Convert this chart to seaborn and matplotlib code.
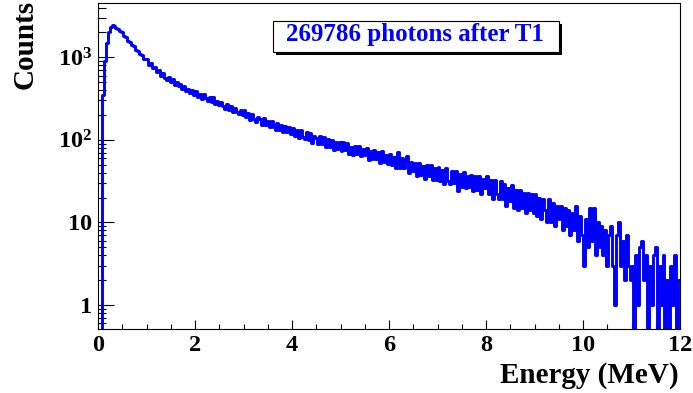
import numpy as np
import pandas as pd
import matplotlib
matplotlib.use("Agg")
import matplotlib.pyplot as plt
import seaborn as sns
from matplotlib.patches import Rectangle
from matplotlib.ticker import FixedLocator, FixedFormatter, MultipleLocator, LogLocator, NullFormatter

# ---- data: counts per bin (bin width 0.04 MeV) ----
bin_width = 0.04
counts_0_1 = [0, 0, 350, 900, 1500, 2000, 2320, 2450, 2420, 2290, 2210, 2080, 2010,
              1830, 1770, 1590, 1540, 1400, 1350, 1230, 1190, 1090, 1060, 960, 950]
counts_1_2 = [942, 810, 860, 740, 756, 656, 697, 599, 638, 565, 524, 572, 506,
              540, 463, 495, 452, 475, 413, 444, 386, 412, 370, 401, 352]
counts_2_3 = [388, 334, 362, 314, 361, 317, 298, 332, 291, 326, 269, 299, 261,
              290, 254, 237, 272, 231, 255, 215, 243, 220, 204, 233, 200]
counts_3_4 = [227, 187, 210, 175, 208, 178, 165, 190, 177, 151, 183, 151, 169,
              142, 167, 143, 133, 160, 133, 151, 123, 147, 125, 143, 118]
counts_4_5 = [140, 112, 132, 105, 133, 109, 101, 123, 100, 120, 92, 111, 104,
              89, 111, 90, 109, 83, 101, 82, 100, 76, 94, 78, 95]
counts_5_6 = [73, 93, 75, 92, 68, 82, 65, 84, 67, 85, 63, 77, 66,
              79, 57, 74, 58, 75, 59, 71, 53, 73, 54, 65, 51]
counts_6_7 = [68, 49, 62, 46, 71, 45, 60, 45, 55, 64, 40, 54, 42,
              53, 37, 53, 38, 48, 34, 49, 37, 49, 33, 45, 33]
counts_7_8 = [47, 32, 43, 29, 46, 32, 29, 42, 30, 42, 24, 39, 27,
              41, 26, 36, 27, 38, 24, 36, 25, 36, 22, 34, 26]
counts_8_9 = [36, 22, 33, 19, 33, 22, 19, 32, 19, 29, 16, 26, 18,
              28, 15, 25, 14, 25, 15, 23, 13, 23, 14, 22, 13]
counts_9_10 = [22, 12, 20, 11, 19, 14, 10, 19, 10, 17, 9, 16, 11,
               16, 8, 15, 9, 14, 7, 13, 8, 16, 6, 12, 7]
counts_10_11 = [3, 11, 5, 15, 6, 15, 4, 10, 5, 9, 4, 8, 3,
                7, 9, 3, 1, 7, 10, 3, 6, 2, 7, 3, 2]
counts_11_12 = [3, 0, 4, 1, 5, 6, 2, 4, 0, 3, 1, 4, 5,
                0, 3, 1, 4, 0, 2, 0, 3, 1, 4, 0, 2]

x_ticks = [0, 2, 4, 6, 8, 10, 12]
y_ticks = [1, 10, 100, 1000]
y_tick_labels = ["1", "10", r"$10^{2}$", r"$10^{3}$"]
title_text = "269786 photons after T1"
x_title = "Energy (MeV)"
y_title = "Counts"

counts = (counts_0_1 + counts_1_2 + counts_2_3 + counts_3_4 + counts_4_5 + counts_5_6 +
          counts_6_7 + counts_7_8 + counts_8_9 + counts_9_10 + counts_10_11 + counts_11_12)
n_bins = len(counts)
edges = np.round(np.arange(n_bins + 1) * bin_width, 6)
centers = edges[:-1] + bin_width / 2
df = pd.DataFrame({"energy": centers, "counts": counts})

# ---- style ----
sns.set_style("ticks")
plt.rcParams["font.family"] = ["Liberation Serif", "DejaVu Serif"]
plt.rcParams["font.weight"] = "bold"
plt.rcParams["mathtext.fontset"] = "custom"
plt.rcParams["mathtext.rm"] = "Liberation Serif:bold"
plt.rcParams["mathtext.bf"] = "Liberation Serif:bold"
plt.rcParams["mathtext.it"] = "Liberation Serif:bold"
plt.rcParams["mathtext.default"] = "bf"

W, H = 693, 393
fig = plt.figure(figsize=(W / 100, H / 100), dpi=100)
ax = fig.add_axes([98 / W, 1 - 329.3 / H, (680 - 98) / W, (329.3 - 3) / H])

sns.histplot(data=df, x="energy", weights="counts", bins=edges.tolist(), element="step",
             fill=False, color="#0000ff", linewidth=2.1, ax=ax)
ax.set_yscale("log", nonpositive="clip")
ax.set_xlim(0, 12)
ax.set_ylim(0.508, 4540)
ax.set_xlabel("")
ax.set_ylabel("")

for s in ax.spines.values():
    s.set_visible(True)
    s.set_color("black")
    s.set_linewidth(0.8)

ax.xaxis.set_major_locator(FixedLocator(x_ticks))
ax.xaxis.set_minor_locator(MultipleLocator(0.5))
ax.yaxis.set_major_locator(FixedLocator(y_ticks))
ax.yaxis.set_major_formatter(FixedFormatter(y_tick_labels))
ax.yaxis.set_minor_locator(LogLocator(base=10, subs=np.arange(2, 10)))
ax.yaxis.set_minor_formatter(NullFormatter())

ax.tick_params(axis="x", which="major", direction="in", length=6.5, width=0.8,
               labelsize=17.5, pad=4, colors="black", top=False)
ax.tick_params(axis="x", which="minor", direction="in", length=3.6, width=0.8,
               colors="black", top=False)
ax.tick_params(axis="y", which="major", direction="in", length=11.5, width=0.8,
               labelsize=17.5, pad=4, colors="black", right=False)
ax.tick_params(axis="y", which="minor", direction="in", length=5.8, width=0.8,
               colors="black", right=False)

# axis titles
fig.text(679 / W, 1 - 383 / H, x_title, ha="right", va="baseline",
         fontsize=21, fontweight="bold", color="black")
fig.text(39 / W, 1.0, y_title, ha="right", va="top", rotation=90,
         fontsize=21, fontweight="bold", color="black")

# title box with shadow
bx0, bx1, by0, by1 = 272.7, 559.0, 20.7, 51.7
shadow = Rectangle(((bx0 + 3) / W, 1 - (by1 + 3) / H), (bx1 - bx0) / W, (by1 - by0) / H,
                   transform=fig.transFigure, facecolor="black", edgecolor="none", zorder=1)
box = Rectangle((bx0 / W, 1 - by1 / H), (bx1 - bx0) / W, (by1 - by0) / H,
                transform=fig.transFigure, facecolor="white", edgecolor="black",
                linewidth=0.8, zorder=1.1)
fig.patches.extend([shadow, box])
fig.text(415 / W, 1 - 40.5 / H, title_text, ha="center", va="baseline",
         fontsize=18, fontweight="bold", color="#0000ff", zorder=3)

fig.savefig("out.png", dpi=100)
